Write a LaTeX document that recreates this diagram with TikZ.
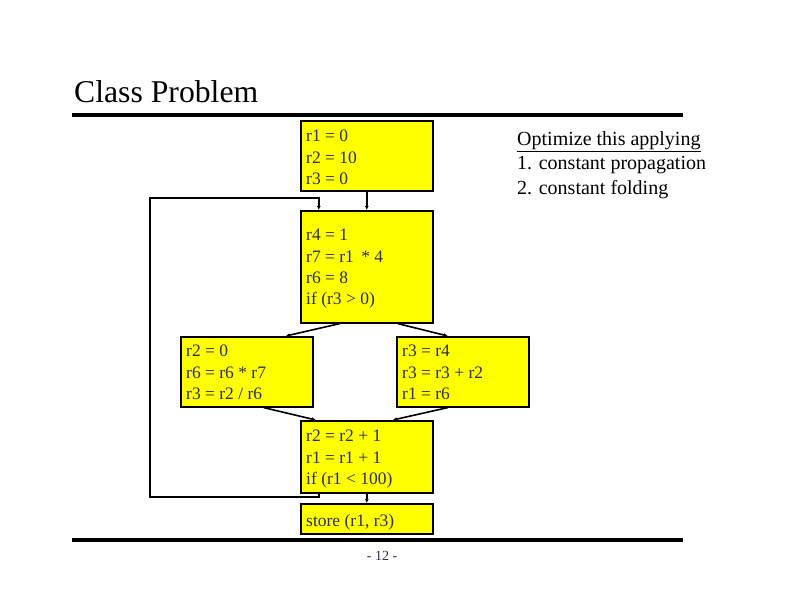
\documentclass[tikz,border=0pt]{standalone}
\usepackage{fontspec}
\setmainfont{Liberation Serif}
\usetikzlibrary{arrows.meta}
\definecolor{boxfill}{RGB}{255,255,0}
\definecolor{txtc}{RGB}{45,45,85}
\begin{document}
\begin{tikzpicture}[x=1pt,y=-1pt,
  blk/.style={draw=black,line width=1.6pt,fill=boxfill,minimum width=132pt,anchor=north west,inner sep=0pt},
  code/.style={anchor=north west,align=left,text=txtc,font=\fontsize{17.5}{21.3}\selectfont,inner sep=0pt},
  edge/.style={line width=1.6pt,-{Latex[length=4pt,width=4pt]}},
  rulebar/.style={line width=4pt}]
\useasboundingbox (0,0) rectangle (792,612);
% title
\node[anchor=base west,font=\fontsize{31.7}{36}\selectfont,inner sep=0pt] (title) at (74,103) {Class Problem};
\coordinate (r1a) at (72,115); \coordinate (r1b) at (683,115);
\draw[rulebar] (r1a) -- (r1b);
\coordinate (r2a) at (72,540); \coordinate (r2b) at (683,540);
\draw[rulebar] (r2a) -- (r2b);
% boxes
\node[blk,minimum height=70pt] (b1) at (300,120) {};
\node[blk,minimum height=112pt] (b2) at (300,210) {};
\node[blk,minimum height=70pt] (b3) at (180,336) {};
\node[blk,minimum height=70pt] (b4) at (396,336) {};
\node[blk,minimum height=72pt] (b5) at (300,420) {};
\node[blk,minimum height=30pt] (b6) at (300,503) {};
% texts
\node[code] (t1) at (306,130) {r1 = 0\\r2 = 10\\r3 = 0};
\node[code] (t2) at (306,229) {r4 = 1\\r7 = r1 \,* 4\\r6 = 8\\if (r3 > 0)};
\node[code] (t3) at (186,345) {r2 = 0\\r6 = r6 * r7\\r3 = r2 / r6};
\node[code] (t4) at (402,345) {r3 = r4\\r3 = r3 + r2\\r1 = r6};
\node[code] (t5) at (306,430) {r2 = r2 + 1\\r1 = r1 + 1\\if (r1 < 100)};
\node[code] (t6) at (306,514) {store (r1, r3)};
% note
\node[anchor=north west,align=left,font=\fontsize{20}{24.7}\selectfont,inner sep=0pt] (note) at (517,131) {\underline{Optimize this applying}\\1. constant propagation\\2. constant folding};
% page number
\node[anchor=base,font=\fontsize{14}{16}\selectfont,text=txtc,inner sep=0pt] (pg) at (382,560) {- 12 -};
% edges
\draw[edge] (b1.south) -- (b2.north);
\draw[edge] ([xshift=-27pt]b2.south) -- ([xshift=39pt]b3.north);
\draw[edge] ([xshift=31pt]b2.south) -- ([xshift=-15pt]b4.north);
\draw[edge] ([xshift=17pt]b3.south) -- ([xshift=-51pt]b5.north);
\draw[edge] ([xshift=-15pt]b4.south) -- ([xshift=26pt]b5.north);
\draw[edge] (b5.south) -- (b6.north);
\coordinate (lp1) at (150,497);
\coordinate (lp2) at (150,198);
\draw[edge] ([xshift=-48pt]b5.south) |- (lp1) -- (lp2) -| ([xshift=-48pt]b2.north);
\end{tikzpicture}
\end{document}
